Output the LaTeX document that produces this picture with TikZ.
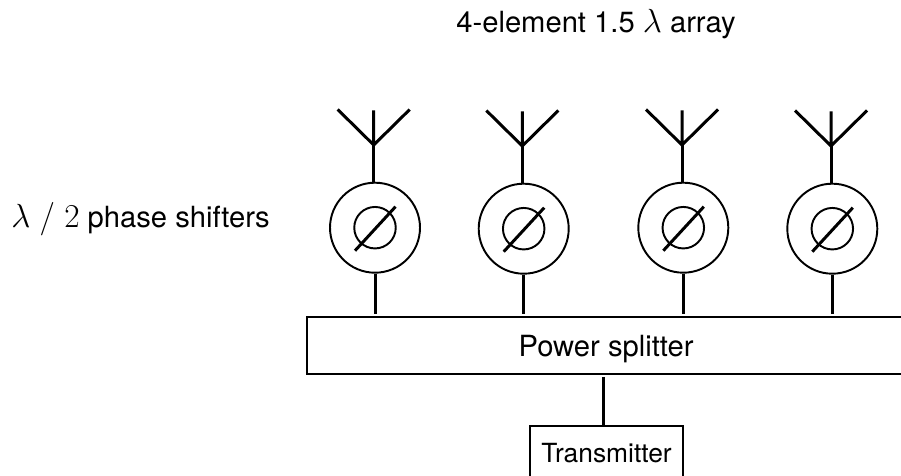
\documentclass[tikz,border=0pt]{standalone}
\usepackage{fix-cm}
\usepackage{fontspec}
\setmainfont{TeX Gyre Heros}

\newcommand{\biglam}[1]{{\fontsize{19}{24}\selectfont$#1$}}

\tikzset{
  feed/.style={line width=1.7pt},
  shifter/.style={circle, draw, line width=1.1pt, minimum size=1.8cm, inner sep=0pt},
  phase/.style={circle, draw, line width=1.1pt, minimum size=0.83cm, inner sep=0pt},
  block/.style={draw, line width=1pt, inner sep=0pt, text depth=0pt},
  caption/.style={inner sep=0pt, anchor=base, font=\fontsize{16.6}{20}\selectfont},
}

\begin{document}
\begin{tikzpicture}

  \path[use as bounding box, clip] (0,0) rectangle (18.02,9.5);

  \node[caption] (title) at (11.92,8.84) {4-element 1.5 \biglam{\lambda} array};
  \node[caption, anchor=base west] (shifterlabel) at (0.22,4.94) {\biglam{\lambda\ /\ 2} phase shifters};

  \node[block, minimum width=11.96cm, minimum height=1.14cm, font=\fontsize{16.6}{20}\selectfont] (splitter) at (12.12,2.584) {Power splitter};
  \node[block, minimum width=3.05cm, minimum height=1.08cm, font=\fontsize{15}{18}\selectfont] (transmitter) at (12.13,0.44) {Transmitter};

  \coordinate (a1) at (7.474,6.6);
  \coordinate (a2) at (10.446,6.58);
  \coordinate (a3) at (13.64,6.6);
  \coordinate (a4) at (16.62,6.58);
  \coordinate (tap) at (12.066,1.96);

  \node[shifter] (s1) at (7.5,4.946) {};
  \node[shifter] (s2) at (10.474,4.926) {};
  \node[shifter] (s3) at (13.666,4.946) {};
  \node[shifter] (s4) at (16.646,4.926) {};

  \node[phase] (p1) at (s1) {};
  \node[phase] (p2) at (s2) {};
  \node[phase] (p3) at (s3) {};
  \node[phase] (p4) at (s4) {};

  \draw[feed] ([shift={(-0.4,-0.46)}]p1.center) -- ([shift={(0.41,0.42)}]p1.center);
  \draw[feed] ([shift={(-0.4,-0.46)}]p2.center) -- ([shift={(0.41,0.42)}]p2.center);
  \draw[feed] ([shift={(-0.4,-0.46)}]p3.center) -- ([shift={(0.41,0.42)}]p3.center);
  \draw[feed] ([shift={(-0.4,-0.46)}]p4.center) -- ([shift={(0.41,0.42)}]p4.center);

  \draw[feed] (a1) -- ++(-0.72,0.71) (a1) -- ++(0.72,0.71) (a1) -- ++(0,0.69);
  \draw[feed] (a2) -- ++(-0.72,0.71) (a2) -- ++(0.72,0.71) (a2) -- ++(0,0.69);
  \draw[feed] (a3) -- ++(-0.72,0.71) (a3) -- ++(0.72,0.71) (a3) -- ++(0,0.69);
  \draw[feed] (a4) -- ++(-0.72,0.71) (a4) -- ++(0.72,0.71) (a4) -- ++(0,0.69);

  \draw[feed] (a1) -- (a1 |- s1.north);
  \draw[feed] (a2) -- (a2 |- s2.north);
  \draw[feed] (a3) -- (a3 |- s3.north);
  \draw[feed] (a4) -- (a4 |- s4.north);

  \draw[feed] (s1.south) -- ([yshift=0.05cm]s1.south |- splitter.north);
  \draw[feed] (s2.south) -- ([yshift=0.05cm]s2.south |- splitter.north);
  \draw[feed] (s3.south) -- ([yshift=0.05cm]s3.south |- splitter.north);
  \draw[feed] (s4.south) -- ([yshift=0.05cm]s4.south |- splitter.north);

  \draw[feed] (tap) -- (tap |- transmitter.north);

\end{tikzpicture}
\end{document}
